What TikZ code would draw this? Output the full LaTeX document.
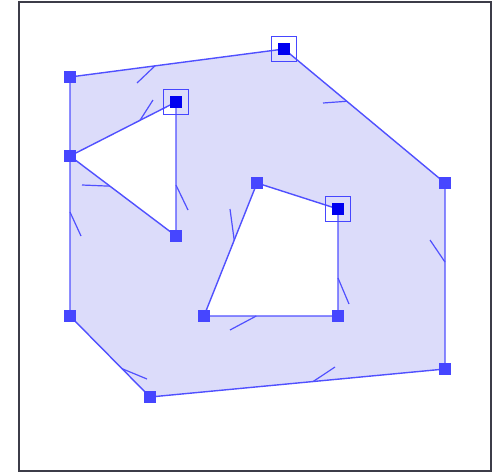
\documentclass[tikz,border=0pt]{standalone}
\usetikzlibrary{calc}
\definecolor{edgeblue}{RGB}{80,80,255}
\definecolor{fillblue}{RGB}{220,220,250}
\definecolor{markblue}{RGB}{70,70,255}
\definecolor{selblue}{RGB}{0,0,240}
\definecolor{framegray}{RGB}{60,60,72}
\tikzset{
  edgeline/.style={draw=edgeblue, line width=1.4pt},
  tickline/.style={draw=edgeblue, line width=1.2pt},
  vmark/.style={fill=markblue, inner sep=0pt, minimum size=12pt, draw=none, rectangle},
  vsel/.style={fill=selblue, inner sep=0pt, minimum size=12pt, draw=none, rectangle},
  vring/.style={draw=markblue, line width=1.3pt, inner sep=0pt, minimum size=25pt, rectangle, fill=none},
}
\begin{document}
\begin{tikzpicture}[x=1pt,y=-1pt]
\useasboundingbox (0,0) rectangle (494,474);
\fill[white] (0,0) rectangle (494,474);
\draw[framegray, line width=2pt] (19,2) rectangle (491,471);
% vertices
\coordinate (A) at (70,77);
\coordinate (B) at (284,49);
\coordinate (C) at (445,183);
\coordinate (D) at (445,369);
\coordinate (E) at (150,397);
\coordinate (F) at (70,316);
\coordinate (G) at (70,156);
\coordinate (H) at (176,102);
\coordinate (I) at (176,236);
\coordinate (J) at (257,183);
\coordinate (K) at (338,209);
\coordinate (L) at (338,316);
\coordinate (M) at (204,316);
% face
\fill[fillblue, even odd rule] (A) -- (B) -- (C) -- (D) -- (E) -- (F) -- (G) -- cycle
  (G) -- (H) -- (I) -- cycle
  (J) -- (K) -- (L) -- (M) -- cycle;
% edges
\draw[edgeline] (A) -- (B) -- (C) -- (D) -- (E) -- (F) -- (A);
\draw[edgeline] (G) -- (H) -- (I) -- cycle;
\draw[edgeline] (J) -- (K) -- (L) -- (M) -- cycle;
% direction ticks
\coordinate (tAB) at (137,83);
\coordinate (tBC) at (323,103);
\coordinate (tCD) at (430,240);
\coordinate (tDE) at (335,367);
\coordinate (tEF) at (147,379);
\coordinate (tFA) at (81,236);
\coordinate (tHG) at (153,100);
\coordinate (tGI) at (82,185);
\coordinate (tIH) at (188,210);
\coordinate (tJM) at (230,209);
\coordinate (tML) at (230,330);
\coordinate (tLK) at (349,304);
\draw[tickline] ($(A)!0.397!(B)$) -- (tAB);
\draw[tickline] ($(B)!0.39!(C)$) -- (tBC);
\draw[tickline] ($(C)!0.425!(D)$) -- (tCD);
\draw[tickline] ($(D)!0.447!(E)$) -- (tDE);
\draw[tickline] ($(E)!0.35!(F)$) -- (tEF);
\draw[tickline] ($(F)!0.435!(A)$) -- (tFA);
\draw[tickline] ($(H)!0.34!(G)$) -- (tHG);
\draw[tickline] ($(G)!0.377!(I)$) -- (tGI);
\draw[tickline] ($(I)!0.38!(H)$) -- (tIH);
\draw[tickline] ($(J)!0.43!(M)$) -- (tJM);
\draw[tickline] ($(M)!0.39!(L)$) -- (tML);
\draw[tickline] ($(L)!0.355!(K)$) -- (tLK);
% vertex markers
\node[vmark] (vA) at (A) {};
\node[vmark] (vC) at (C) {};
\node[vmark] (vD) at (D) {};
\node[vmark] (vE) at (E) {};
\node[vmark] (vF) at (F) {};
\node[vmark] (vG) at (G) {};
\node[vmark] (vI) at (I) {};
\node[vmark] (vJ) at (J) {};
\node[vmark] (vL) at (L) {};
\node[vmark] (vM) at (M) {};
\node[vsel] (vB) at (B) {};
\node[vsel] (vH) at (H) {};
\node[vsel] (vK) at (K) {};
\node[vring] (rB) at (B) {};
\node[vring] (rH) at (H) {};
\node[vring] (rK) at (K) {};
\end{tikzpicture}
\end{document}
